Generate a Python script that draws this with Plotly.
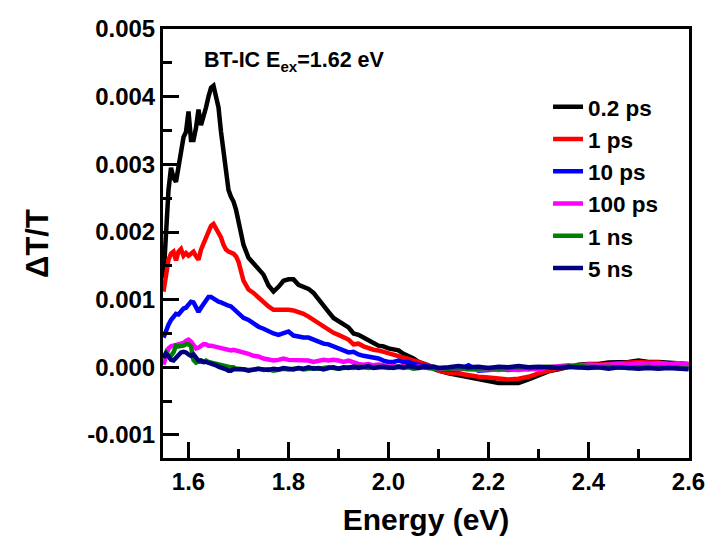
import plotly.graph_objects as go

energy = [1.550, 1.555, 1.560, 1.565, 1.570, 1.575, 1.580, 1.585, 1.590, 1.595,
          1.600, 1.605, 1.610, 1.615, 1.620, 1.625, 1.630, 1.635, 1.640, 1.645,
          1.650, 1.655, 1.660, 1.665, 1.670, 1.675, 1.680, 1.685, 1.690, 1.695, 1.700,
          1.71, 1.72, 1.73, 1.74, 1.75, 1.76, 1.77, 1.78, 1.79, 1.80,
          1.81, 1.82, 1.83, 1.84, 1.85, 1.86, 1.87, 1.88, 1.89, 1.90,
          1.91, 1.92, 1.93, 1.94, 1.95, 1.96, 1.97, 1.98, 1.99, 2.00,
          2.01, 2.02, 2.03, 2.04, 2.05, 2.06, 2.07, 2.08, 2.09, 2.10,
          2.12, 2.14, 2.16, 2.18, 2.20, 2.22, 2.24, 2.26, 2.28, 2.30,
          2.32, 2.34, 2.36, 2.38, 2.40, 2.42, 2.44, 2.46, 2.48, 2.50,
          2.52, 2.54, 2.56, 2.58, 2.60]

dt_02ps = [0.00132, 0.00203, 0.00262, 0.00295, 0.00280, 0.00274, 0.00295, 0.00325, 0.00340, 0.00348,
           0.00378, 0.00336, 0.00336, 0.00354, 0.00381, 0.00358, 0.00369, 0.00384, 0.00400, 0.00413,
           0.00416, 0.00400, 0.00384, 0.00348, 0.00319, 0.00285, 0.00262, 0.00252, 0.00245, 0.00233, 0.00215,
           0.00181, 0.00162, 0.00153, 0.00146, 0.00137, 0.00121, 0.00112, 0.00119, 0.00128, 0.00130,
           0.00130, 0.00122, 0.00119, 0.00116, 0.00110, 0.00100, 0.00091, 0.00082, 0.00073, 0.00068,
           0.00063, 0.00059, 0.00050, 0.00048, 0.00044, 0.00039, 0.00036, 0.00032, 0.00031, 0.00028,
           0.00026, 0.00025, 0.00020, 0.00017, 0.00013, 0.00008, 0.00005, 0.00003, -0.00002, -0.00005,
           -0.00009, -0.00012, -0.00015, -0.00018, -0.00020, -0.00023, -0.00023, -0.00023, -0.00018, -0.00012,
           -0.00006, -0.00003, 0.00001, 0.00004, 0.00005, 0.00005, 0.00007, 0.00007, 0.00008, 0.00010,
           0.00008, 0.00008, 0.00007, 0.00007, 0.00005]

dt_1ps = [0.00112, 0.00140, 0.00159, 0.00168, 0.00171, 0.00158, 0.00171, 0.00175, 0.00165, 0.00169,
          0.00165, 0.00168, 0.00171, 0.00164, 0.00159, 0.00174, 0.00183, 0.00189, 0.00200, 0.00209,
          0.00212, 0.00206, 0.00200, 0.00192, 0.00181, 0.00174, 0.00171, 0.00169, 0.00168, 0.00164, 0.00156,
          0.00128, 0.00115, 0.00110, 0.00103, 0.00096, 0.00090, 0.00085, 0.00085, 0.00086, 0.00085,
          0.00084, 0.00082, 0.00079, 0.00075, 0.00070, 0.00066, 0.00060, 0.00056, 0.00051, 0.00048,
          0.00044, 0.00041, 0.00034, 0.00035, 0.00031, 0.00028, 0.00026, 0.00025, 0.00023, 0.00020,
          0.00019, 0.00016, 0.00014, 0.00013, 0.00010, 0.00008, 0.00005, 0.00003, 0.00000, -0.00005,
          -0.00008, -0.00009, -0.00012, -0.00014, -0.00015, -0.00017, -0.00018, -0.00017, -0.00014, -0.00009,
          -0.00005, -0.00002, 0.00001, 0.00003, 0.00004, 0.00004, 0.00005, 0.00005, 0.00007, 0.00008,
          0.00007, 0.00007, 0.00005, 0.00005, 0.00004]

dt_10ps = [0.00044, 0.00056, 0.00063, 0.00070, 0.00076, 0.00079, 0.00078, 0.00084, 0.00087, 0.00088,
           0.00094, 0.00097, 0.00096, 0.00087, 0.00082, 0.00088, 0.00093, 0.00099, 0.00104, 0.00104,
           0.00101, 0.00099, 0.00097, 0.00096, 0.00094, 0.00093, 0.00091, 0.00090, 0.00087, 0.00084, 0.00081,
           0.00073, 0.00070, 0.00065, 0.00060, 0.00057, 0.00053, 0.00050, 0.00048, 0.00051, 0.00053,
           0.00047, 0.00045, 0.00044, 0.00044, 0.00041, 0.00038, 0.00035, 0.00034, 0.00031, 0.00029,
           0.00025, 0.00022, 0.00023, 0.00019, 0.00017, 0.00016, 0.00014, 0.00013, 0.00010, 0.00008,
           0.00008, 0.00010, 0.00008, 0.00008, 0.00005, 0.00004, 0.00003, 0.00001, 0.00000, -0.00002,
           -0.00003, -0.00004, 0.00003, -0.00005, -0.00004, -0.00003, -0.00004, -0.00002, -0.00003, -0.00001,
           0.00000, -0.00001, 0.00001, 0.00000, 0.00001, 0.00002, 0.00001, 0.00002, 0.00001, 0.00002,
           0.00001, 0.00000, 0.00001, 0.00000, -0.00001]

dt_100ps = [0.00004, 0.00019, 0.00028, 0.00031, 0.00032, 0.00032, 0.00034, 0.00035, 0.00036, 0.00039,
            0.00041, 0.00038, 0.00032, 0.00028, 0.00029, 0.00032, 0.00034, 0.00034, 0.00032, 0.00032,
            0.00031, 0.00031, 0.00029, 0.00029, 0.00028, 0.00026, 0.00026, 0.00025, 0.00026, 0.00025, 0.00025,
            0.00022, 0.00020, 0.00017, 0.00016, 0.00013, 0.00011, 0.00010, 0.00011, 0.00013, 0.00011,
            0.00011, 0.00010, 0.00011, 0.00010, 0.00008, 0.00010, 0.00011, 0.00010, 0.00011, 0.00010,
            0.00008, 0.00010, 0.00007, 0.00005, 0.00004, 0.00005, 0.00003, 0.00004, 0.00003, 0.00001,
            0.00002, 0.00000, 0.00002, 0.00001, -0.00001, 0.00001, 0.00000, -0.00001, 0.00000, -0.00002,
            -0.00002, -0.00003, -0.00002, -0.00004, -0.00003, -0.00004, -0.00003, -0.00004, -0.00002, -0.00003,
            0.00000, 0.00002, 0.00003, 0.00002, 0.00004, 0.00003, 0.00004, 0.00005, 0.00004, 0.00006,
            0.00005, 0.00006, 0.00005, 0.00006, 0.00004]

dt_1ns = [0.00014, 0.00022, 0.00017, 0.00017, 0.00022, 0.00032, 0.00031, 0.00031, 0.00032, 0.00034,
          0.00034, 0.00031, 0.00011, 0.00007, 0.00008, 0.00010, 0.00008, 0.00010, 0.00008, 0.00007,
          0.00007, 0.00005, 0.00004, 0.00004, 0.00003, 0.00001, 0.00001, 0.00000, 0.00000, -0.00002, -0.00002,
          -0.00003, -0.00004, -0.00003, -0.00002, -0.00004, -0.00003, -0.00005, -0.00003, -0.00002, -0.00003,
          -0.00002, -0.00001, -0.00003, -0.00002, -0.00001, -0.00002, -0.00001, 0.00000, -0.00001, -0.00002,
          -0.00001, 0.00000, -0.00001, 0.00001, 0.00000, -0.00001, 0.00000, 0.00001, 0.00000, -0.00001,
          0.00000, 0.00001, -0.00001, 0.00000, -0.00002, -0.00001, 0.00000, -0.00001, -0.00002, -0.00001,
          -0.00002, -0.00001, -0.00003, -0.00002, -0.00001, -0.00002, -0.00001, 0.00000, -0.00001, 0.00000,
          0.00001, 0.00000, 0.00001, 0.00002, 0.00001, 0.00000, 0.00001, 0.00000, -0.00001, 0.00000,
          0.00001, -0.00001, 0.00000, -0.00001, -0.00002]

dt_5ns = [0.00014, 0.00020, 0.00016, 0.00011, 0.00010, 0.00014, 0.00019, 0.00022, 0.00023, 0.00022,
          0.00019, 0.00017, 0.00019, 0.00013, 0.00010, 0.00010, 0.00008, 0.00008, 0.00007, 0.00005,
          0.00004, 0.00003, 0.00001, 0.00000, -0.00002, -0.00003, -0.00005, -0.00005, -0.00003, -0.00003, -0.00003,
          -0.00003, -0.00005, -0.00004, -0.00002, -0.00003, -0.00004, -0.00002, -0.00003, -0.00001, -0.00002,
          -0.00003, -0.00001, -0.00002, 0.00000, -0.00002, -0.00001, -0.00003, -0.00001, 0.00000, -0.00002,
          0.00000, -0.00001, 0.00001, -0.00001, 0.00000, 0.00002, -0.00001, 0.00000, 0.00001, 0.00000,
          -0.00001, 0.00001, 0.00000, 0.00002, 0.00000, -0.00001, 0.00001, 0.00000, 0.00001, -0.00001,
          0.00000, 0.00002, 0.00000, 0.00001, -0.00001, 0.00001, 0.00000, 0.00002, 0.00000, 0.00001,
          0.00000, -0.00001, 0.00001, 0.00000, -0.00001, 0.00000, -0.00002, 0.00000, -0.00001, -0.00002,
          -0.00001, -0.00002, -0.00001, -0.00002, -0.00003]

series_names = ["0.2 ps", "1 ps", "10 ps", "100 ps", "1 ns", "5 ns"]
series_values = [dt_02ps, dt_1ps, dt_10ps, dt_100ps, dt_1ns, dt_5ns]
series_colors = ["#000000", "#ff0000", "#0000ff", "#ff00ff", "#008000", "#000080"]

x_tickvals = [1.6, 1.8, 2.0, 2.2, 2.4, 2.6]
x_ticktext = ["1.6", "1.8", "2.0", "2.2", "2.4", "2.6"]
x_minorvals = [1.7, 1.9, 2.1, 2.3, 2.5]
y_tickvals = [-0.001, 0.0, 0.001, 0.002, 0.003, 0.004, 0.005]
y_ticktext = ["-0.001", "0.000", "0.001", "0.002", "0.003", "0.004", "0.005"]
y_minorvals = [-0.0005, 0.0005, 0.0015, 0.0025, 0.0035, 0.0045]

x_range = [1.549, 2.601]
y_range = [-0.00134, 0.005]

FONT = "Liberation Sans, Arial, sans-serif"

fig = go.Figure()
for name, vals, col in zip(series_names, series_values, series_colors):
    fig.add_trace(go.Scatter(x=energy, y=vals, mode="lines", name=name,
                             line=dict(color=col, width=4.5)))

fig.update_layout(
    width=717, height=556,
    margin=dict(l=163, r=22, t=29, b=98),
    paper_bgcolor="white", plot_bgcolor="white",
    font=dict(family=FONT, color="black", size=22),
    showlegend=True,
    legend=dict(x=0.732, y=0.868, xanchor="left", yanchor="top",
                bgcolor="rgba(0,0,0,0)", borderwidth=0,
                font=dict(family=FONT, size=22.5, color="black", weight="bold"),
                itemwidth=30, tracegroupgap=0),
    xaxis=dict(range=x_range, showgrid=False, zeroline=False,
               showline=True, linecolor="black", linewidth=3, mirror=True,
               ticks="inside", ticklen=16, tickwidth=3, tickcolor="black",
               tickmode="array", tickvals=x_tickvals, ticktext=x_ticktext,
               minor=dict(ticks="inside", ticklen=9, tickwidth=3,
                          tickvals=x_minorvals, tickcolor="black"),
               tickfont=dict(family=FONT, size=24, color="black", weight="bold"),
               title=dict(text="Energy (eV)", standoff=16,
                          font=dict(family=FONT, size=30, color="black", weight="bold"))),
    yaxis=dict(range=y_range, showgrid=False, zeroline=False,
               showline=True, linecolor="black", linewidth=3, mirror=True,
               ticks="inside", ticklen=16, tickwidth=3, tickcolor="black",
               tickmode="array", tickvals=y_tickvals, ticktext=y_ticktext,
               minor=dict(ticks="inside", ticklen=9, tickwidth=3,
                          tickvals=y_minorvals, tickcolor="black"),
               tickfont=dict(family=FONT, size=24, color="black", weight="bold"),
               title=dict(text="ΔT/T", standoff=30,
                          font=dict(family=FONT, size=31, color="black", weight="bold"))),
    annotations=[dict(text="BT-IC E<sub>ex</sub>=1.62 eV", xref="paper", yref="paper",
                      x=0.25, y=0.925, xanchor="center", yanchor="middle",
                      showarrow=False,
                      font=dict(family=FONT, size=21.5, color="black", weight="bold"))],
)

fig.write_html("out.html")
